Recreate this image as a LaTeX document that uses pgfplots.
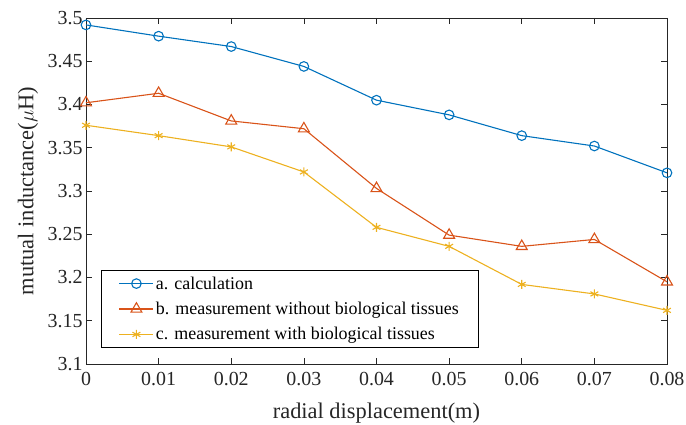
\documentclass[border=0pt]{standalone}
\usepackage{fontspec}
\setmainfont{Liberation Serif}
\usepackage{pgfplots}
\pgfplotsset{compat=1.18}
\usetikzlibrary{calc}
\definecolor{mblue}{rgb}{0,0.447,0.741}
\definecolor{mred}{rgb}{0.850,0.325,0.098}
\definecolor{myellow}{rgb}{0.929,0.694,0.125}
\definecolor{axgray}{rgb}{0.15,0.15,0.15}
\begin{document}
\begin{tikzpicture}
\begin{axis}[
  scale only axis, width=581bp, height=346bp,
  xmin=0, xmax=0.08, ymin=3.1, ymax=3.5,
  xtick={0,0.01,0.02,0.03,0.04,0.05,0.06,0.07,0.08},
  ytick={3.1,3.15,3.2,3.25,3.3,3.35,3.4,3.45,3.5},
  scaled x ticks=false, scaled y ticks=false,
  /pgf/number format/fixed, /pgf/number format/precision=2,
  /pgf/number format/assume math mode=true,
  tick align=inside, major tick length=6bp,
  axis line style={axgray, line width=0.7pt},
  every tick/.style={axgray, line width=0.7pt},
  tick label style={font=\fontsize{20}{24}\selectfont, text=axgray},
  xticklabel style={yshift=-5bp},
  label style={font=\fontsize{22.5}{26}\selectfont, text=axgray},
  xlabel={radial displacement(m)},
  ylabel={mutual inductance($\mu$H)},
  xlabel style={at={(axis description cs:0.5,-0.1416)}, anchor=center},
  ylabel style={at={(axis description cs:-0.0998,0.5)}, anchor=center, rotate=0},
  legend style={at={(axis description cs:0.025,0.047)}, anchor=south west,
    font=\fontsize{18}{21}\selectfont, draw=black, line width=0.7pt,
    inner xsep=18bp, inner ysep=4bp, row sep=7.5bp,
    /tikz/column 2/.style={column sep=3bp}},
  legend cell align=left,
  legend image code/.code={\draw[mark repeat=2, mark phase=2]
    plot coordinates {(0bp,0bp) (17bp,0bp) (34bp,0bp)};},
  every axis plot/.append style={line width=1.1pt},
]
\addplot[mblue, mark=o, mark size=4.8bp, mark options={solid, line width=1.1pt}] coordinates {
  (0,3.492)(0.01,3.479)(0.02,3.467)(0.03,3.444)(0.04,3.405)
  (0.05,3.388)(0.06,3.364)(0.07,3.352)(0.08,3.321)};
\addplot[mred, mark=triangle, mark size=6.3bp, mark options={solid, line width=1.1pt}] coordinates {
  (0,3.402)(0.01,3.413)(0.02,3.381)(0.03,3.372)(0.04,3.303)
  (0.05,3.249)(0.06,3.236)(0.07,3.244)(0.08,3.195)};
\addplot[myellow, mark=asterisk, mark size=4.5bp, mark options={solid, line width=1.1pt}] coordinates {
  (0,3.376)(0.01,3.364)(0.02,3.351)(0.03,3.322)(0.04,3.258)
  (0.05,3.236)(0.06,3.192)(0.07,3.181)(0.08,3.162)};
\legend{a. calculation, b. measurement without biological tissues, c. measurement with biological tissues}
\coordinate (bl) at (rel axis cs:0,0);
\coordinate (tr) at (rel axis cs:1,1);
\end{axis}
\pgfresetboundingbox
\path[use as bounding box] ($(bl)+(-86bp,-61bp)$) rectangle ($(tr)+(19bp,18bp)$);
\end{tikzpicture}
\end{document}
